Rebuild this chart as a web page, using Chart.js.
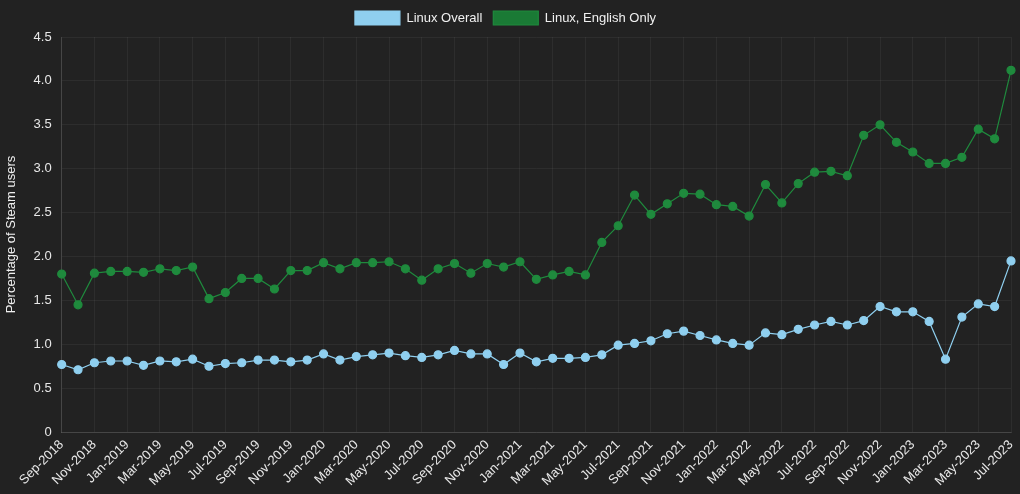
<!DOCTYPE html>
<html>
<head>
<meta charset="utf-8">
<script src="https://cdn.jsdelivr.net/npm/chart.js@4"></script>
<style>
  html, body { margin: 0; padding: 0; background: #222222; }
  #wrap { width: 1020px; height: 494px; }
</style>
</head>
<body>
<div id="wrap"><canvas id="myChart"></canvas></div>
<script>
  // months from Sep-2018 to Jul-2023
  const months = [
    'Sep-2018', 'Oct-2018', 'Nov-2018', 'Dec-2018',
    'Jan-2019', 'Feb-2019', 'Mar-2019', 'Apr-2019', 'May-2019', 'Jun-2019',
    'Jul-2019', 'Aug-2019', 'Sep-2019', 'Oct-2019', 'Nov-2019', 'Dec-2019',
    'Jan-2020', 'Feb-2020', 'Mar-2020', 'Apr-2020', 'May-2020', 'Jun-2020',
    'Jul-2020', 'Aug-2020', 'Sep-2020', 'Oct-2020', 'Nov-2020', 'Dec-2020',
    'Jan-2021', 'Feb-2021', 'Mar-2021', 'Apr-2021', 'May-2021', 'Jun-2021',
    'Jul-2021', 'Aug-2021', 'Sep-2021', 'Oct-2021', 'Nov-2021', 'Dec-2021',
    'Jan-2022', 'Feb-2022', 'Mar-2022', 'Apr-2022', 'May-2022', 'Jun-2022',
    'Jul-2022', 'Aug-2022', 'Sep-2022', 'Oct-2022', 'Nov-2022', 'Dec-2022',
    'Jan-2023', 'Feb-2023', 'Mar-2023', 'Apr-2023', 'May-2023', 'Jun-2023',
    'Jul-2023'
  ];

  const linuxOverall = [
    0.77, 0.71, 0.79, 0.81, 0.81, 0.76, 0.81, 0.80, 0.83, 0.75,
    0.78, 0.79, 0.82, 0.82, 0.80, 0.82, 0.89, 0.82, 0.86, 0.88,
    0.90, 0.87, 0.85, 0.88, 0.93, 0.89, 0.89, 0.77, 0.90, 0.80,
    0.84, 0.84, 0.85, 0.88, 0.99, 1.01, 1.04, 1.12, 1.15, 1.10,
    1.05, 1.01, 0.99, 1.13, 1.11, 1.17, 1.22, 1.26, 1.22, 1.27,
    1.43, 1.37, 1.37, 1.26, 0.83, 1.31, 1.46, 1.43, 1.95
  ];

  const linuxEnglish = [
    1.80, 1.45, 1.81, 1.83, 1.83, 1.82, 1.86, 1.84, 1.88, 1.52,
    1.59, 1.75, 1.75, 1.63, 1.84, 1.84, 1.93, 1.86, 1.93, 1.93,
    1.94, 1.86, 1.73, 1.86, 1.92, 1.81, 1.92, 1.88, 1.94, 1.74,
    1.79, 1.83, 1.79, 2.16, 2.35, 2.70, 2.48, 2.60, 2.72, 2.71,
    2.59, 2.57, 2.46, 2.82, 2.61, 2.83, 2.96, 2.97, 2.92, 3.38,
    3.50, 3.30, 3.19, 3.06, 3.06, 3.13, 3.45, 3.34, 4.12
  ];

  const yTicks = [0, 0.5, 1.0, 1.5, 2.0, 2.5, 3.0, 3.5, 4.0, 4.5];

  Chart.defaults.font.family = '"Liberation Sans", Arial, sans-serif';
  Chart.defaults.color = '#e8e8e8';

  const gridColor = 'rgba(255,255,255,0.05)';

  // a little more room under the legend
  const legendGap = {
    id: 'legendGap',
    beforeInit(chart) {
      const fit = chart.legend.fit;
      chart.legend.fit = function () {
        fit.bind(chart.legend)();
        this.height += 2;
      };
    }
  };

  const ctx = document.getElementById('myChart');
  const myChart = new Chart(ctx, {
    type: 'line',
    data: {
      labels: months,
      datasets: [{
        label: 'Linux Overall',
        data: linuxOverall,
        borderColor: '#8fcfef',
        backgroundColor: '#8fcfef',
        pointBackgroundColor: '#8fcfef',
        pointBorderColor: '#8fcfef',
        borderWidth: 1.2,
        pointRadius: 4,
        lineTension: 0
      }, {
        label: 'Linux, English Only',
        data: linuxEnglish,
        borderColor: '#1f8a3d',
        backgroundColor: '#1a7a35',
        pointBackgroundColor: '#1f8a3d',
        pointBorderColor: '#1f8a3d',
        borderWidth: 1.2,
        pointRadius: 4,
        lineTension: 0
      }]
    },
    options: {
      responsive: true,
      maintainAspectRatio: false,
      animation: false,
      layout: { padding: { right: 9, left: 0, top: 0, bottom: 0 } },
      plugins: {
        legend: {
          display: true,
          labels: {
            boxWidth: 45,
            boxHeight: 14,
            font: { size: 13 },
            color: '#f0f0f0',
            padding: 11
          }
        },
        tooltip: { enabled: false }
      },
      scales: {
        x: {
          grid: { color: gridColor, drawTicks: false },
          border: { color: 'rgba(255,255,255,0.12)' },
          afterFit: scale => {
            // let the plot run almost to the right edge like the original
            scale.paddingRight = 0;
          },
          ticks: {
            maxRotation: 45,
            minRotation: 45,
            autoSkip: true,
            font: { size: 13 },
            padding: 5
          }
        },
        y: {
          min: 0,
          max: 4.5,
          grid: { color: gridColor, drawTicks: false },
          border: { color: 'rgba(255,255,255,0.12)' },
          afterBuildTicks: axis => {
            axis.ticks = yTicks.map(v => ({ value: v }));
          },
          ticks: {
            font: { size: 13 },
            padding: 10,
            callback: v => (v === 0 ? '0' : v.toFixed(1))
          },
          title: {
            display: true,
            text: 'Percentage of Steam users',
            font: { size: 13 },
            color: '#f0f0f0'
          }
        }
      }
    },
    plugins: [legendGap]
  });
</script>
</body>
</html>
